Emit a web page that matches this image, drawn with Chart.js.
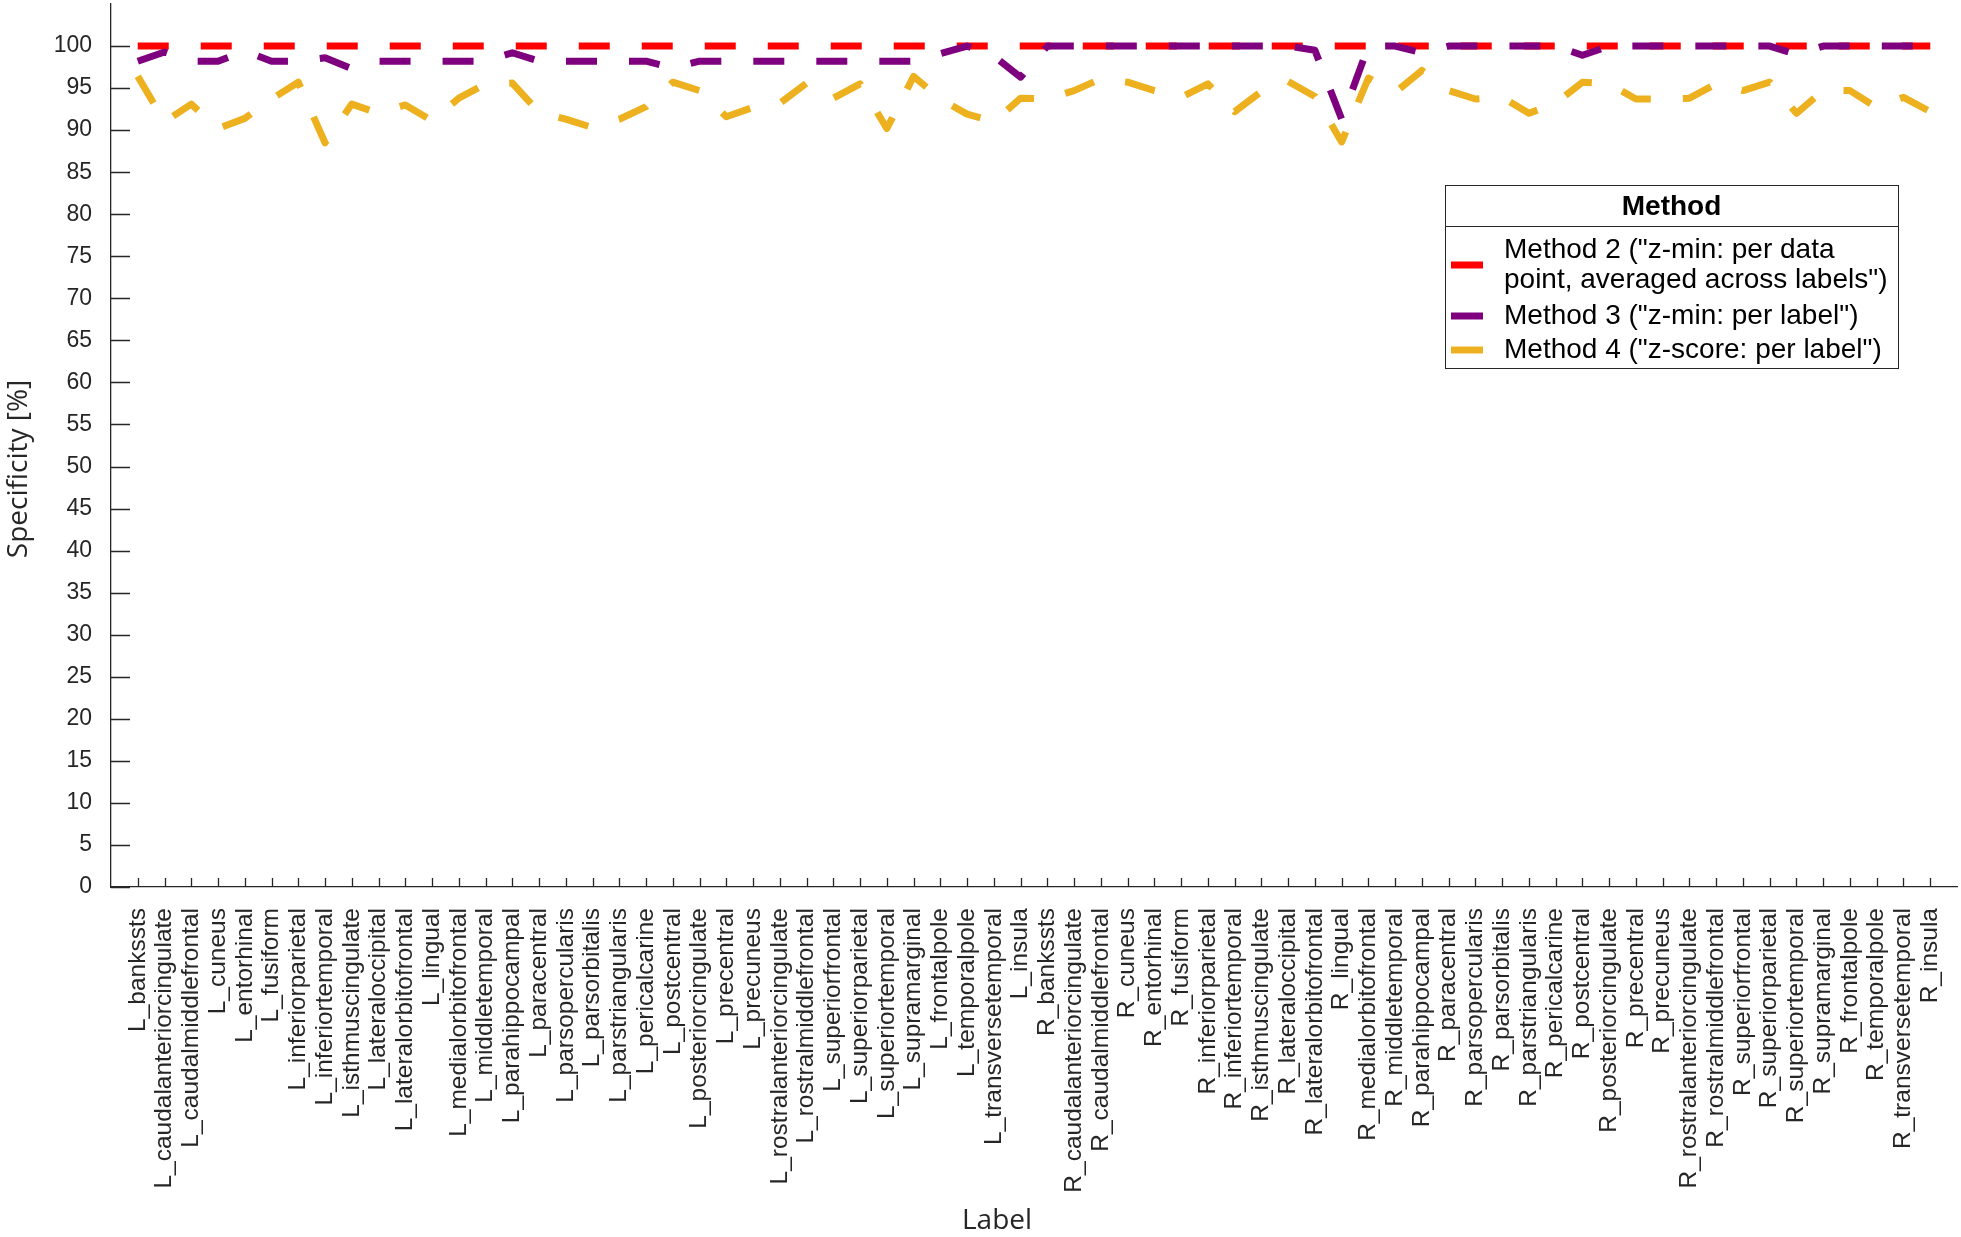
<!DOCTYPE html>
<html>
<head>
<meta charset="utf-8">
<script src="https://cdn.jsdelivr.net/npm/chart.js@4.4.1/dist/chart.umd.min.js"></script>
<style>
  body { margin: 0; background: #fff; }
  #wrap { width: 1961px; height: 1237px; }
</style>
</head>
<body>
<div id="wrap"><canvas id="chart" width="1961" height="1237"></canvas></div>
<script>
// region labels (x axis)
const regionLabels = [
  "L_bankssts", "L_caudalanteriorcingulate", "L_caudalmiddlefrontal", "L_cuneus", "L_entorhinal",
  "L_fusiform", "L_inferiorparietal", "L_inferiortemporal", "L_isthmuscingulate", "L_lateraloccipital",
  "L_lateralorbitofrontal", "L_lingual", "L_medialorbitofrontal", "L_middletemporal", "L_parahippocampal",
  "L_paracentral", "L_parsopercularis", "L_parsorbitalis", "L_parstriangularis", "L_pericalcarine",
  "L_postcentral", "L_posteriorcingulate", "L_precentral", "L_precuneus", "L_rostralanteriorcingulate",
  "L_rostralmiddlefrontal", "L_superiorfrontal", "L_superiorparietal", "L_superiortemporal", "L_supramarginal",
  "L_frontalpole", "L_temporalpole", "L_transversetemporal", "L_insula",
  "R_bankssts", "R_caudalanteriorcingulate", "R_caudalmiddlefrontal", "R_cuneus", "R_entorhinal",
  "R_fusiform", "R_inferiorparietal", "R_inferiortemporal", "R_isthmuscingulate", "R_lateraloccipital",
  "R_lateralorbitofrontal", "R_lingual", "R_medialorbitofrontal", "R_middletemporal", "R_parahippocampal",
  "R_paracentral", "R_parsopercularis", "R_parsorbitalis", "R_parstriangularis", "R_pericalcarine",
  "R_postcentral", "R_posteriorcingulate", "R_precentral", "R_precuneus", "R_rostralanteriorcingulate",
  "R_rostralmiddlefrontal", "R_superiorfrontal", "R_superiorparietal", "R_superiortemporal", "R_supramarginal",
  "R_frontalpole", "R_temporalpole", "R_transversetemporal", "R_insula"
];

// Method 2: z-min per data point
const method2 = [
  100, 100, 100, 100, 100, 100, 100, 100, 100, 100,
  100, 100, 100, 100, 100, 100, 100, 100, 100, 100,
  100, 100, 100, 100, 100, 100, 100, 100, 100, 100,
  100, 100, 100, 100,
  100, 100, 100, 100, 100, 100, 100, 100, 100, 100,
  100, 100, 100, 100, 100, 100, 100, 100, 100, 100,
  100, 100, 100, 100, 100, 100, 100, 100, 100, 100,
  100, 100, 100, 100
];

// Method 3: z-min per label
const method3 = [
  98.2, 99.3, 98.2, 98.2, 99.4, 98.2, 98.2, 98.6, 97.3, 98.2,
  98.2, 98.2, 98.2, 98.2, 99.2, 98.2, 98.2, 98.2, 98.2, 98.2,
  97.4, 98.2, 98.2, 98.2, 98.2, 98.2, 98.2, 98.2, 98.2, 98.2,
  99.1, 100, 98.8, 96.3,
  100, 100, 100, 100, 100, 100, 100, 100, 100, 100,
  99.5, 91.3, 100, 100, 99.2, 100, 100, 100, 100, 100,
  98.9, 100, 100, 100, 100, 100, 100, 100, 99.0, 100,
  100, 100, 100, 100
];

// Method 4: z-score per label
const method4 = [
  96.4, 91.0, 93.1, 90.2, 91.4, 93.7, 95.7, 88.5, 93.1, 92.0,
  93.0, 91.1, 93.8, 95.5, 95.6, 92.1, 91.3, 90.3, 91.3, 92.8,
  95.7, 94.7, 91.6, 92.7, 93.2, 95.6, 93.8, 95.5, 90.2, 96.4,
  93.7, 91.9, 91.0, 93.8,
  93.7, 94.7, 96.1, 95.7, 94.7, 93.9, 95.5, 92.2, 94.6, 95.8,
  94.0, 88.6, 96.2, 94.5, 97.1, 94.7, 93.7, 93.9, 92.0, 93.2,
  95.7, 95.5, 93.7, 93.7, 93.8, 95.5, 94.7, 95.7, 92.0, 94.7,
  94.7, 92.7, 93.9, 92.2
];

// y tick labels
const yTicks = [0, 5, 10, 15, 20, 25, 30, 35, 40, 45, 50, 55, 60, 65, 70, 75, 80, 85, 90, 95, 100];

const legendTitle = "Method";
const methodLines = [
  ['Method 2 ("z-min: per data', 'point, averaged across labels")'],
  ['Method 3 ("z-min: per label")'],
  ['Method 4 ("z-score: per label")']
];
const methodColors = ["#FF0000", "#7E007E", "#EDB120"];
const seriesValues = [method2, method3, method4];

const axisColor = "#262626";
const tickFont = "'Liberation Sans', Arial, Helvetica, sans-serif";
const titleFont = "'Open Sans', 'DejaVu Sans', sans-serif";

function toPoints(arr) {
  return arr.map((v, i) => ({ x: i + 1, y: v }));
}

const datasets = seriesValues.map((vals, k) => ({
  label: methodLines[k].join(" "),
  data: toPoints(vals),
  borderColor: methodColors[k],
  backgroundColor: methodColors[k],
  borderWidth: 7,
  borderDash: [31, 32],
  borderCapStyle: "butt",
  borderJoinStyle: "round",
  pointRadius: 0,
  tension: 0,
  fill: false,
  order: 3 - k
}));

// inward ticks, axis titles and the boxed legend
const extrasPlugin = {
  id: "extras",
  afterDraw(chart) {
    const ctx = chart.ctx;
    const xs = chart.scales.x, ys = chart.scales.y;
    const area = chart.chartArea;
    ctx.save();
    ctx.strokeStyle = axisColor;
    ctx.lineWidth = 1.3;
    ctx.beginPath();
    yTicks.forEach(v => {
      const py = Math.round(ys.getPixelForValue(v)) + 0.5;
      ctx.moveTo(area.left, py);
      ctx.lineTo(area.left + 19, py);
    });
    regionLabels.forEach((_, i) => {
      const px = Math.round(xs.getPixelForValue(i + 1)) + 0.5;
      ctx.moveTo(px, area.bottom);
      ctx.lineTo(px, area.bottom - 9);
    });
    ctx.stroke();

    // axis titles
    ctx.fillStyle = axisColor;
    ctx.font = "28px " + titleFont;
    ctx.textAlign = "center";
    ctx.textBaseline = "middle";
    ctx.fillText("Label", 997, 1221);
    ctx.save();
    ctx.translate(19, 469);
    ctx.rotate(-Math.PI / 2);
    ctx.fillText("Specificity [%]", 0, 0);
    ctx.restore();

    // legend box
    const lx = 1445, ly = 185, lw = 453, lh = 183;
    ctx.fillStyle = "#fff";
    ctx.fillRect(lx, ly, lw, lh);
    ctx.strokeStyle = "#262626";
    ctx.lineWidth = 1;
    ctx.strokeRect(lx + 0.5, ly + 0.5, lw, lh);
    ctx.beginPath();
    ctx.moveTo(lx, 226.5);
    ctx.lineTo(lx + lw, 226.5);
    ctx.stroke();

    ctx.fillStyle = "#000";
    ctx.font = "bold 28px " + tickFont;
    ctx.textAlign = "center";
    ctx.fillText(legendTitle, lx + lw / 2, 207);

    ctx.font = "28px " + tickFont;
    ctx.textAlign = "left";
    const rowY = [[250, 280], [316], [350]];
    methodLines.forEach((lines, k) => {
      const ys2 = rowY[k];
      const mid = (ys2[0] + ys2[ys2.length - 1]) / 2;
      ctx.strokeStyle = methodColors[k];
      ctx.lineWidth = 7;
      ctx.beginPath();
      ctx.moveTo(1451, mid);
      ctx.lineTo(1483, mid);
      ctx.stroke();
      lines.forEach((t, j) => ctx.fillText(t, 1504, ys2[j]));
    });
    ctx.restore();
  }
};

new Chart(document.getElementById("chart"), {
  type: "line",
  data: { datasets: datasets },
  options: {
    responsive: false,
    devicePixelRatio: 1,
    animation: false,
    layout: { padding: { top: 4, right: 4, left: 0, bottom: 0 } },
    plugins: {
      legend: { display: false },
      tooltip: { enabled: false }
    },
    scales: {
      x: {
        type: "linear",
        min: 0,
        max: 69,
        grid: { display: false },
        border: { display: true, color: axisColor, width: 1.3 },
        afterBuildTicks: function (scale) {
          scale.ticks = regionLabels.map((_, i) => ({ value: i + 1 }));
        },
        afterFit: function (scale) {
          scale.height = 350;
          scale.paddingLeft = 0;
          scale.paddingRight = 0;
        },
        ticks: {
          autoSkip: false,
          maxRotation: 90,
          minRotation: 90,
          padding: 13,
          color: axisColor,
          font: { family: tickFont, size: 24.5 },
          callback: function (v) { return regionLabels[v - 1] || ""; }
        }
      },
      y: {
        min: 0,
        max: 105,
        grid: { display: false },
        border: { display: true, color: axisColor, width: 1.3 },
        afterBuildTicks: function (scale) {
          scale.ticks = yTicks.map(v => ({ value: v }));
        },
        afterFit: function (scale) {
          scale.width = 111;
          scale.paddingTop = 0;
          scale.paddingBottom = 0;
        },
        ticks: {
          padding: 11,
          color: axisColor,
          font: { family: tickFont, size: 23 }
        }
      }
    }
  },
  plugins: [extrasPlugin]
});
</script>
</body>
</html>
